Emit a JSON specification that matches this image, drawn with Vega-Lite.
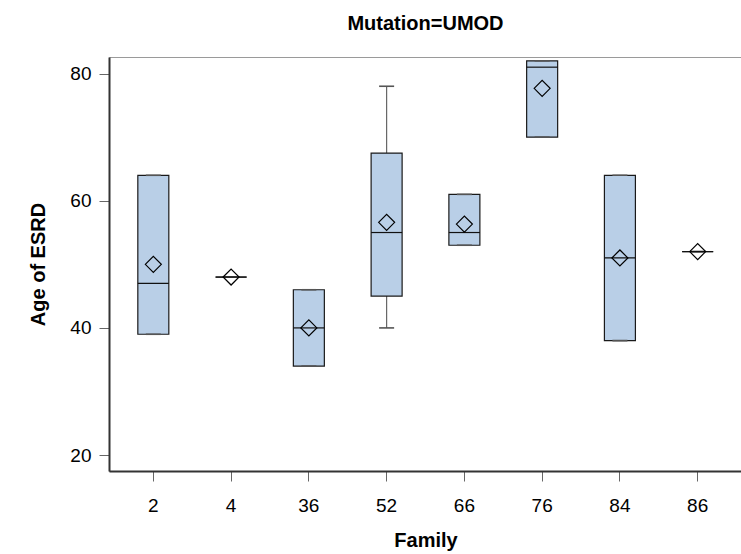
{
  "$schema": "https://vega.github.io/schema/vega-lite/v6.json",
  "width": 633,
  "height": 414,
  "autosize": {"type": "none"},
  "padding": {"left": 109, "top": 57, "right": 0, "bottom": 83},
  "background": "white",
  "title": {"text": "Mutation=UMOD", "font": "Liberation Sans", "fontSize": 20, "fontWeight": "bold", "color": "black", "anchor": "middle", "offset": 23},
  "config": {
    "view": {"stroke": "#9a9a9a", "strokeWidth": 1},
    "axis": {
      "grid": false,
      "domainColor": "#333333",
      "domainWidth": 2,
      "tickColor": "#666666",
      "tickSize": 10,
      "tickWidth": 1,
      "labelFont": "Liberation Sans",
      "labelFontSize": 19,
      "labelColor": "black",
      "titleFont": "Liberation Sans",
      "titleFontSize": 20,
      "titleFontWeight": "bold",
      "titleColor": "black"
    }
  },
  "data": {
    "values": [
      {"Family": "2", "min": 39, "q1": 39, "median": 47, "q3": 64, "max": 64, "mean": 50},
      {"Family": "4", "min": 48, "q1": 48, "median": 48, "q3": 48, "max": 48, "mean": 48},
      {"Family": "36", "min": 34, "q1": 34, "median": 40, "q3": 46, "max": 46, "mean": 40},
      {"Family": "52", "min": 40, "q1": 45, "median": 55, "q3": 67.5, "max": 78, "mean": 56.6},
      {"Family": "66", "min": 53, "q1": 53, "median": 55, "q3": 61, "max": 61, "mean": 56.33},
      {"Family": "76", "min": 70, "q1": 70, "median": 81, "q3": 82, "max": 82, "mean": 77.67},
      {"Family": "84", "min": 38, "q1": 38, "median": 51, "q3": 64, "max": 64, "mean": 51},
      {"Family": "86", "min": 52, "q1": 52, "median": 52, "q3": 52, "max": 52, "mean": 52}
    ]
  },
  "encoding": {
    "x": {
      "field": "Family",
      "type": "ordinal",
      "sort": ["2", "4", "36", "52", "66", "76", "84", "86"],
      "scale": {"paddingInner": 0, "paddingOuter": 0.07},
      "axis": {"labelAngle": 0, "labelPadding": 15, "titlePadding": 15, "title": "Family"}
    }
  },
  "layer": [
    {
      "mark": {"type": "rule", "color": "#666666", "strokeWidth": 1.2},
      "encoding": {
        "y": {
          "field": "min",
          "type": "quantitative",
          "scale": {"domain": [17.5, 82.6], "nice": false, "zero": false},
          "axis": {"values": [20, 40, 60, 80], "title": "Age of ESRD", "labelPadding": 8, "titlePadding": 21}
        },
        "y2": {"field": "max"}
      }
    },
    {
      "mark": {"type": "bar", "size": 31, "fill": "#b9cfe7", "stroke": "#1a1a1a", "strokeWidth": 1.2},
      "encoding": {
        "y": {"field": "q1", "type": "quantitative"},
        "y2": {"field": "q3"}
      }
    },
    {
      "mark": {"type": "tick", "size": 15, "thickness": 1.6, "color": "#555555", "opacity": 1},
      "encoding": {"y": {"field": "min", "type": "quantitative"}}
    },
    {
      "mark": {"type": "tick", "size": 15, "thickness": 1.6, "color": "#555555", "opacity": 1},
      "encoding": {"y": {"field": "max", "type": "quantitative"}}
    },
    {
      "mark": {"type": "tick", "size": 31, "thickness": 1.2, "color": "#111111", "opacity": 1},
      "encoding": {"y": {"field": "median", "type": "quantitative"}}
    },
    {
      "mark": {"type": "point", "shape": "diamond", "size": 256, "filled": false, "stroke": "black", "strokeWidth": 1.2, "opacity": 1},
      "encoding": {"y": {"field": "mean", "type": "quantitative"}}
    }
  ]
}
